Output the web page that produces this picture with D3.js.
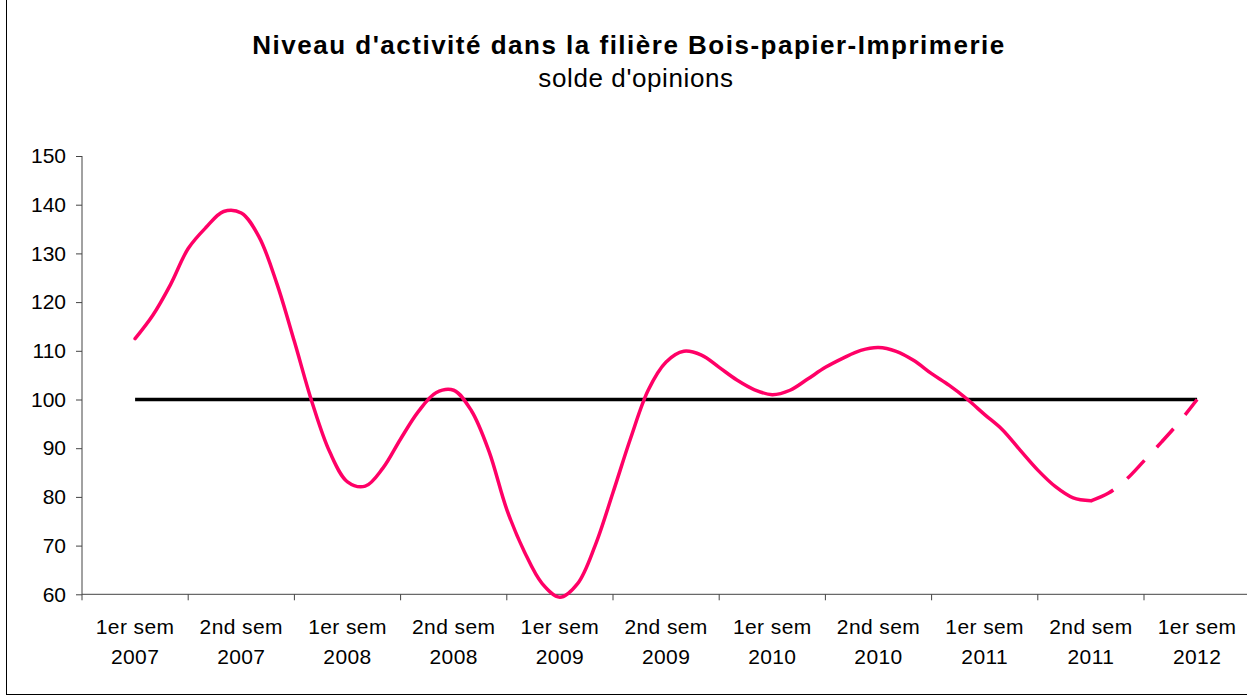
<!DOCTYPE html>
<html>
<head>
<meta charset="utf-8">
<script src="https://cdn.jsdelivr.net/npm/d3@7"></script>
<style>
  html, body { margin: 0; padding: 0; background: #fff; }
  svg { display: block; }
  text { font-family: "Liberation Sans", Arial, sans-serif; fill: #000; }
</style>
</head>
<body>
<svg id="chart" width="1247" height="696"></svg>
<script>
// ---- Data ----
const semesterLabels = ["1er sem", "2nd sem", "1er sem", "2nd sem", "1er sem", "2nd sem", "1er sem", "2nd sem", "1er sem", "2nd sem", "1er sem"];
const yearLabels = ["2007", "2007", "2008", "2008", "2009", "2009", "2010", "2010", "2011", "2011", "2012"];
const categories = semesterLabels.map((s, i) => s + " " + yearLabels[i]);
// monthly readings of the "solde d'opinions" (from 1er sem 2007 to 1er sem 2012)
const activite = [
  112.5, 117.3, 123.6, 131.0, 135.3, 138.6, 138.3, 133.4, 123.9, 111.9,
  99.4, 89.2, 83.1, 82.2, 85.9, 91.9, 97.5, 101.4, 101.9, 97.7,
  89.3, 77.4, 68.7, 62.2, 59.4, 62.2, 70.1, 80.9, 92.1, 102.0,
  107.7, 109.9, 109.1, 106.6, 104.0, 102.0, 101.0, 101.9, 104.2, 106.6,
  108.5, 110.1, 110.7, 109.9, 108.0, 105.3, 102.9, 100.1, 96.9, 93.8,
  89.6, 85.5, 82.1, 79.8, 79.2, 80.8, 83.6, 87.4, 91.3, 95.4,
  100.0
];
const forecastStart = 54; // dashed from 2nd sem 2011 on
const referenceLine = [100, 100, 100, 100, 100, 100, 100, 100, 100, 100, 100];
const yTicks = [60, 70, 80, 90, 100, 110, 120, 130, 140, 150];
const titleText = "Niveau d'activité dans la filière Bois-papier-Imprimerie";
const subtitleText = "solde d'opinions";

// ---- Layout ----
const svg = d3.select("#chart");
const plotLeft = 82, plotTop = 156, plotBottom = 594.3;
const bandW = 106.2;

const xBand = d3.scaleBand().domain(categories)
  .range([plotLeft, plotLeft + bandW * categories.length]).paddingInner(0).paddingOuter(0);
const center = c => xBand(c) + xBand.bandwidth() / 2;
const xMonth = d3.scaleLinear().domain([0, activite.length - 1])
  .range([center(categories[0]), center(categories[categories.length - 1])]);
const y = d3.scaleLinear().domain([60, 150]).range([plotBottom, plotTop]);

// outer frame
svg.append("rect").attr("x", 6.5).attr("y", -5).attr("width", 1260).attr("height", 699.5)
  .attr("fill", "none").attr("stroke", "#000").attr("stroke-width", 1);

// title
svg.append("text").attr("x", 629).attr("y", 54).attr("text-anchor", "middle")
  .attr("font-size", 26).attr("font-weight", "bold").attr("letter-spacing", 1.5).text(titleText);
svg.append("text").attr("x", 636).attr("y", 87).attr("text-anchor", "middle")
  .attr("font-size", 26).attr("letter-spacing", 0.6).text(subtitleText);

// y axis
const yAxis = svg.append("g").attr("transform", `translate(${plotLeft},0)`)
  .call(d3.axisLeft(y).tickValues(yTicks).tickSize(6).tickPadding(10).tickFormat(d3.format("d")));
yAxis.select(".domain").attr("stroke", "#444").attr("d", `M0,${plotTop}V${plotBottom}`);
yAxis.selectAll(".tick line").attr("stroke", "#444");
yAxis.selectAll(".tick text").attr("font-size", 21).attr("font-family", "Liberation Sans, Arial, sans-serif").attr("fill", "#000");

// x axis
const xg = svg.append("g");
xg.append("line").attr("x1", plotLeft).attr("x2", plotLeft + bandW * categories.length)
  .attr("y1", plotBottom).attr("y2", plotBottom).attr("stroke", "#444");
xg.selectAll("line.tk").data(categories).join("line").attr("class", "tk")
  .attr("x1", d => xBand(d)).attr("x2", d => xBand(d))
  .attr("y1", plotBottom).attr("y2", plotBottom + 6).attr("stroke", "#444");
const lbl = xg.selectAll("text.lbl").data(categories).join("text").attr("class", "lbl")
  .attr("text-anchor", "middle").attr("font-size", 21).attr("letter-spacing", 0.4);
lbl.append("tspan").attr("x", d => center(d)).attr("y", 634).text((d, i) => semesterLabels[i]);
lbl.append("tspan").attr("x", d => center(d)).attr("y", 664).text((d, i) => yearLabels[i]);

// reference line (100)
svg.append("path").datum(referenceLine)
  .attr("d", d3.line().x((d, i) => center(categories[i])).y(d => y(d)))
  .attr("fill", "none").attr("stroke", "#000").attr("stroke-width", 3.5);

// activity curve
const line = d3.line().x(d => xMonth(d.i)).y(d => y(d.v)).curve(d3.curveCatmullRom.alpha(0.5));
const pts = activite.map((v, i) => ({ i, v }));
svg.append("path").datum(pts.slice(0, forecastStart + 1)).attr("d", line)
  .attr("fill", "none").attr("stroke", "#FF0066").attr("stroke-width", 3.5)
  .attr("stroke-linejoin", "round").attr("stroke-linecap", "round");
svg.append("path").datum(pts.slice(forecastStart)).attr("d", line)
  .attr("fill", "none").attr("stroke", "#FF0066").attr("stroke-width", 3.5)
  .attr("stroke-dasharray", "25,18");
</script>
</body>
</html>
